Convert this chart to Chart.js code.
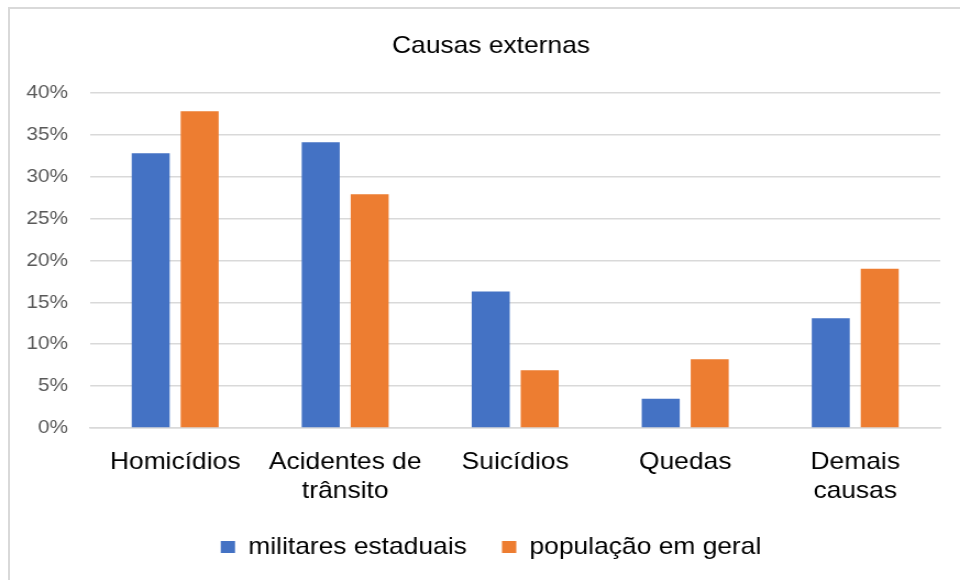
<!DOCTYPE html>
<html>
<head>
<meta charset="utf-8">
<script src="https://cdn.jsdelivr.net/npm/chart.js@4/dist/chart.umd.min.js"></script>
<style>
  html, body { margin: 0; padding: 0; background: #fff; }
  #wrap { position: relative; width: 960px; height: 580px; overflow: hidden; }
  #frame { position: absolute; left: 8px; top: 7px; width: 1000px; height: 600px;
           border-top: 2px solid #d9d9d9; border-left: 2px solid #d9d9d9; box-sizing: border-box; }
  /* the chart is laid out on a narrower canvas and widened to the full frame */
  #chart { position: absolute; left: 0; top: 0; width: 873px; height: 580px;
           transform: scaleX(1.0997); transform-origin: 0 0; }
</style>
</head>
<body>
<div id="wrap">
  <div id="frame"></div>
  <canvas id="chart" width="873" height="580"></canvas>
</div>
<script>
// Causas externas de óbito: militares estaduais x população em geral (%)
const categories = ['Homicídios', ['Acidentes de', 'trânsito'], 'Suicídios', 'Quedas', ['Demais', 'causas']];
const militares = [32.8, 34.1, 16.3, 3.5, 13.1];
const populacao = [37.8, 27.9, 6.9, 8.2, 19.0];
const seriesNames = ['militares estaduais', 'população em geral'];
const titleText = 'Causas externas';

const FONT = "'Liberation Sans', Arial, sans-serif";

new Chart(document.getElementById('chart'), {
  type: 'bar',
  data: {
    labels: categories,
    datasets: [
      { label: seriesNames[0], data: militares, backgroundColor: '#4472C4',
        categoryPercentage: 0.576, barPercentage: 0.776 },
      { label: seriesNames[1], data: populacao, backgroundColor: '#ED7D31',
        categoryPercentage: 0.576, barPercentage: 0.776 }
    ]
  },
  options: {
    responsive: false,
    animation: false,
    layout: { padding: { left: 24, right: 4, top: 0, bottom: 11 } },
    plugins: {
      title: {
        display: true, text: titleText, color: '#000',
        font: { family: FONT, size: 24, weight: 'normal' },
        padding: { top: 32, bottom: 32 }
      },
      legend: {
        position: 'bottom',
        labels: {
          color: '#000', boxWidth: 13, boxHeight: 12,
          font: { family: FONT, size: 24 }, padding: 32
        }
      },
      tooltip: { enabled: false }
    },
    scales: {
      x: {
        grid: { display: false },
        border: { display: true, color: '#d9d9d9', width: 1.5 },
        ticks: { color: '#000', font: { family: FONT, size: 24 }, padding: 12, maxRotation: 0, autoSkip: false },
        afterFit: s => { s.height = 75; }
      },
      y: {
        min: 0, max: 40,
        grid: { color: '#d9d9d9', lineWidth: 1.5, drawTicks: false },
        border: { display: false },
        ticks: { stepSize: 5, color: '#595959', font: { family: FONT, size: 19 }, padding: 20,
                 callback: v => v + '%' },
        afterFit: s => { s.width = 58; }
      },
      // empty margin on the right of the plot
      yRight: {
        type: 'linear', axis: 'y', position: 'right',
        grid: { display: false }, border: { display: false },
        ticks: { display: false },
        afterFit: s => { s.width = 14; }
      }
    }
  }
});
</script>
</body>
</html>
